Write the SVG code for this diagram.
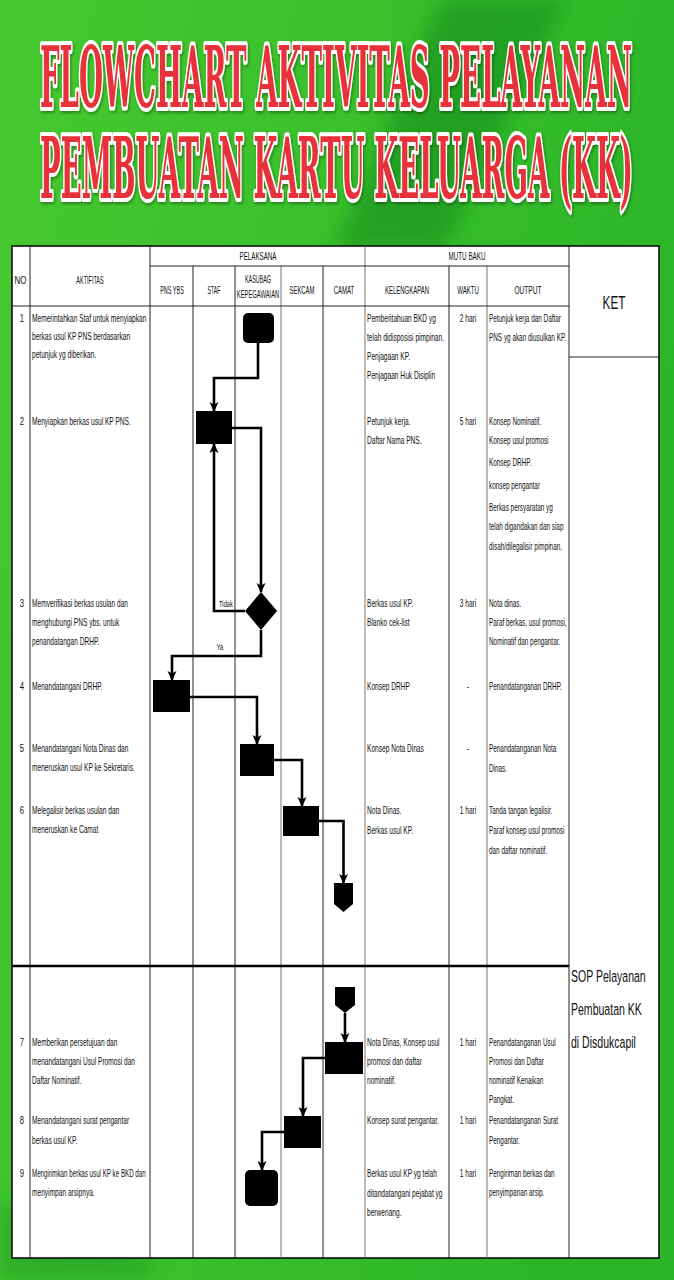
<svg xmlns="http://www.w3.org/2000/svg" width="674" height="1280" viewBox="0 0 674 1280">
<defs>
<linearGradient id="bg" x1="0" y1="0" x2="1" y2="0.3">
<stop offset="0" stop-color="#46c92f"/>
<stop offset="0.55" stop-color="#38bf2b"/>
<stop offset="1" stop-color="#2bb528"/>
</linearGradient>
<filter id="blur" x="-30%" y="-30%" width="160%" height="160%"><feGaussianBlur stdDeviation="9"/></filter>
<filter id="sh" x="-5%" y="-20%" width="110%" height="140%"><feDropShadow dx="1" dy="2" stdDeviation="1.5" flood-color="#000" flood-opacity="0.35"/></filter>
<marker id="ar" viewBox="0 0 10 10" refX="9" refY="5" markerUnits="userSpaceOnUse" markerWidth="10" markerHeight="10" orient="auto">
<path d="M0,0.5 L10,5 L0,9.5 L2.5,5 z" fill="#000"/>
</marker>
</defs>
<style>
.title{font-family:"DejaVu Serif","Liberation Serif",serif;font-weight:bold;font-size:84px;fill:#e8323a;stroke:#fff;stroke-width:6px;paint-order:stroke;stroke-linejoin:round}
.hd{font-family:"Liberation Sans",Arial,sans-serif;font-size:10px;fill:#111;text-anchor:middle}
.t text{font-family:"Liberation Sans",Arial,sans-serif;font-size:11px;fill:#111}
.c text{text-anchor:middle}
.ln{stroke:#222;stroke-width:1;fill:none}
.lg{stroke:#777;stroke-width:1;fill:none}
.node{fill:#000}
.cn path{stroke:#000;stroke-width:2.6;fill:none;marker-end:url(#ar)}
.lbl{font-family:"Liberation Sans",Arial,sans-serif;font-size:9px;fill:#111;text-anchor:middle}
</style>
<rect x="0" y="0" width="674" height="1280" fill="url(#bg)"/>
<polygon points="440,0 565,0 445,250 335,250" fill="#14901a" opacity="0.6" filter="url(#blur)"/>
<polygon points="0,1200 160,1260 140,1280 0,1280" fill="#1d9a20" opacity="0.5" filter="url(#blur)"/>
<g id="title" filter="url(#sh)">
<text class="title" transform="matrix(.316 0 0 1 40 107)" textLength="1873" lengthAdjust="spacingAndGlyphs" vector-effect="non-scaling-stroke">FLOWCHART AKTIVITAS PELAYANAN</text>
<text class="title" transform="matrix(.321 0 0 1 40 198)" textLength="1847" lengthAdjust="spacingAndGlyphs" vector-effect="non-scaling-stroke">PEMBUATAN KARTU KELUARGA (KK)</text>
</g>
<g id="table">
<rect x="13" y="247" width="647" height="1012" fill="#0a3d0a" opacity="0.3"/>
<rect x="12" y="246" width="647" height="1012" fill="#fff" stroke="#111" stroke-width="1.6"/>
<line class="ln" x1="30" y1="246" x2="30" y2="1258"/>
<line class="ln" x1="150" y1="246" x2="150" y2="1258"/>
<line class="ln" x1="193" y1="266" x2="193" y2="1258"/>
<line class="ln" x1="235" y1="266" x2="235" y2="1258"/>
<line class="lg" x1="281" y1="266" x2="281" y2="1258"/>
<line class="ln" x1="323" y1="266" x2="323" y2="1258"/>
<line class="lg" x1="365" y1="246" x2="365" y2="1258"/>
<line class="ln" x1="449" y1="266" x2="449" y2="1258"/>
<line class="lg" x1="487" y1="266" x2="487" y2="1258"/>
<line class="ln" x1="569" y1="246" x2="569" y2="1258" stroke-width="1.5"/>
<line class="ln" x1="150" y1="266" x2="569" y2="266"/>
<line class="ln" x1="12" y1="306" x2="569" y2="306"/>
<line class="ln" x1="569" y1="357" x2="659" y2="357" stroke-width="1.5"/>
<line x1="12" y1="966" x2="569" y2="966" stroke="#000" stroke-width="2.6"/>
<text class="hd" transform="matrix(.8 0 0 1 20.5 284)">NO</text>
<text class="hd" transform="matrix(.55 0 0 1 90 284)">AKTIFITAS</text>
<text class="hd" transform="matrix(.62 0 0 1 258 260)">PELAKSANA</text>
<text class="hd" transform="matrix(.63 0 0 1 467 260)">MUTU BAKU</text>
<text class="hd" transform="matrix(.55 0 0 1 172 294)">PNS YBS</text>
<text class="hd" transform="matrix(.52 0 0 1 214 294)">STAF</text>
<text class="hd" transform="matrix(.54 0 0 1 258 283)">KASUBAG</text>
<text class="hd" transform="matrix(.58 0 0 1 258 298)">KEPEGAWAIAN</text>
<text class="hd" transform="matrix(.59 0 0 1 302 294)">SEKCAM</text>
<text class="hd" transform="matrix(.6 0 0 1 344 294)">CAMAT</text>
<text class="hd" transform="matrix(.6 0 0 1 407 294)">KELENGKAPAN</text>
<text class="hd" transform="matrix(.61 0 0 1 468 294)">WAKTU</text>
<text class="hd" transform="matrix(.66 0 0 1 528 294)">OUTPUT</text>
<text class="hd" transform="matrix(.62 0 0 1 614 309)" style="font-size:19px">KET</text>
</g>
<g id="col-no" class="t c" transform="matrix(.7 0 0 1 22 0)">
<text y="322">1</text><text y="425">2</text><text y="607">3</text><text y="690">4</text><text y="752">5</text><text y="814">6</text><text y="1046">7</text><text y="1124">8</text><text y="1177">9</text>
</g>
<g id="col-aktifitas" class="t" transform="matrix(.6 0 0 1 32 0)">
<text y="322">Memerintahkan Staf untuk menyiapkan</text><text y="340">berkas usul KP PNS berdasarkan</text><text y="358">petunjuk yg diberikan.</text>
<text y="425">Menyiapkan berkas usul KP PNS.</text>
<text y="607">Memverifikasi berkas usulan  dan</text><text y="626">menghubungi PNS ybs. untuk</text><text y="645">penandatangan DRHP.</text>
<text y="690">Menandatangani DRHP.</text>
<text y="752">Menandatangani Nota Dinas dan</text><text y="771">meneruskan usul KP ke Sekretaris.</text>
<text y="814">Melegalisir berkas usulan dan</text><text y="833">meneruskan ke Camat</text>
<text y="1046">Memberikan persetujuan dan</text><text y="1065">menandatangani Usul Promosi dan</text><text y="1084">Daftar Nominatif.</text>
<text y="1124">Menandatangani surat pengantar</text><text y="1144">berkas usul KP.</text>
<text y="1196">menyimpan arsipnya.</text>
</g>
<g id="col-aktifitas-9" class="t" transform="matrix(.565 0 0 1 32 0)">
<text y="1177">Mengirimkan berkas usul KP ke BKD dan</text>
</g>
<g id="col-kelengkapan" class="t" transform="matrix(.6 0 0 1 367 0)">
<text y="322">Pemberitahuan BKD yg</text><text y="341">telah didisposisi pimpinan.</text><text y="360">Penjagaan KP.</text><text y="379">Penjagaan Huk Disiplin</text>
<text y="425">Petunjuk kerja.</text><text y="444">Daftar Nama PNS.</text>
<text y="607">Berkas usul KP.</text><text y="626">Blanko cek-list</text>
<text y="690">Konsep DRHP</text>
<text y="752">Konsep Nota Dinas</text>
<text y="814">Nota Dinas.</text><text y="834">Berkas usul KP.</text>
<text y="1046">Nota Dinas, Konsep usul</text><text y="1065">promosi dan daftar</text><text y="1084">nominatif.</text>
<text y="1124">Konsep surat pengantar.</text>
<text y="1177">Berkas usul KP yg telah</text><text y="1197">ditandatangani pejabat yg</text><text y="1216">berwenang.</text>
</g>
<g id="col-waktu" class="t c" transform="matrix(.6 0 0 1 468 0)">
<text y="322">2 hari</text><text y="425">5 hari</text><text y="607">3 hari</text><text y="690">-</text><text y="752">-</text><text y="814">1 hari</text><text y="1046">1 hari</text><text y="1124">1 hari</text><text y="1177">1 hari</text>
</g>
<g id="col-output" class="t" transform="matrix(.58 0 0 1 489 0)">
<text y="322">Petunjuk kerja dan Daftar</text><text y="341">PNS yg akan diusulkan KP.</text>
<text y="425">Konsep Nominatif.</text><text y="444">Konsep usul promosi</text><text y="466">Konsep DRHP.</text><text y="489">konsep pengantar</text><text y="511">Berkas persyaratan yg</text><text y="530">telah digandakan dan siap</text><text y="550">disah/dilegalisir pimpinan.</text>
<text y="607">Nota dinas.</text><text y="626">Paraf berkas, usul promosi,</text><text y="645">Nominatif dan pengantar.</text>
<text y="690">Penandatanganan DRHP.</text>
<text y="752">Penandatanganan Nota</text><text y="772">Dinas.</text>
<text y="814">Tanda tangan legalisir.</text><text y="834">Paraf konsep usul promosi</text><text y="854">dan daftar nominatif.</text>
<text y="1046">Penandatanganan Usul</text><text y="1065">Promosi dan Daftar</text><text y="1084">nominatif Kenaikan</text><text y="1103">Pangkat.</text>
<text y="1124">Penandatanganan Surat</text><text y="1144">Pengantar.</text>
<text y="1177">Pengiriman berkas dan</text><text y="1196">penyimpanan arsip.</text>
</g>
<g id="col-ket" class="t" transform="matrix(.62 0 0 1 571 0)">
<text y="982" style="font-size:17px">SOP Pelayanan</text><text y="1015" style="font-size:17px">Pembuatan KK</text><text y="1048" style="font-size:17px">di Disdukcapil</text>
</g>
<g id="connectors" class="cn">
<path d="M258,343 V378 H214 V411"/>
<path d="M232,428 H261 V592"/>
<path d="M245,611 H214 V444"/>
<path d="M261,630 V656 H172 V680"/>
<path d="M190,697 H257 V744"/>
<path d="M274,760 H302 V806"/>
<path d="M319,821 H343.5 V883"/>
<path d="M345,1013 V1042"/>
<path d="M325,1058 H303 V1116"/>
<path d="M284,1132 H262 V1170"/>
</g>
<text class="lbl" transform="matrix(.64 0 0 1 226 607)">Tidak</text>
<text class="lbl" transform="matrix(.64 0 0 1 220 650)">Ya</text>
<g id="n1"><rect class="node" x="243" y="313" width="31" height="30" rx="5"/></g>
<g id="n2"><rect class="node" x="196" y="411" width="36" height="33"/></g>
<g id="n3"><polygon class="node" points="261,592 277,611 261,630 245,611"/></g>
<g id="n4"><rect class="node" x="153" y="680" width="37" height="32"/></g>
<g id="n5"><rect class="node" x="240" y="744" width="34" height="32"/></g>
<g id="n6"><rect class="node" x="283" y="806" width="36" height="30"/></g>
<g id="n7"><polygon class="node" points="334,883 353,883 353,904 343.5,912 334,904"/></g>
<g id="n8"><polygon class="node" points="335,987 355,987 355,1005 345,1013 335,1005"/></g>
<g id="n9"><rect class="node" x="325" y="1042" width="38" height="32"/></g>
<g id="n10"><rect class="node" x="284" y="1116" width="37" height="32"/></g>
<g id="n11"><rect class="node" x="245" y="1170" width="33" height="36" rx="5"/></g>
</svg>
